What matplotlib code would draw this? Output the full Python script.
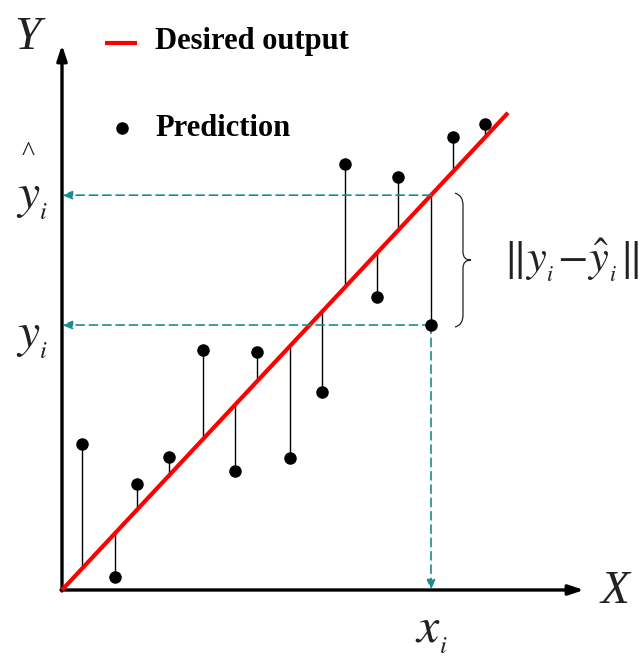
import matplotlib.pyplot as plt
from matplotlib.path import Path
from matplotlib.patches import PathPatch

plt.rcParams['mathtext.fontset'] = 'stix'
plt.rcParams['font.family'] = 'Liberation Serif'

# data (origin of the sketch at 0,0)
x_obs = [20, 53, 75, 107, 141, 173, 195, 228, 260, 283, 315, 336, 369, 391, 423]
y_pred = [146, 13, 106, 133, 240, 119, 238, 132, 198, 426, 293, 413, 265, 453, 466]
slope = 1.07          # desired output: y = slope * x
x_line = [0, 446]
i_sel = 12            # highlighted sample x_i
x_max, y_max = 522, 545

teal = '#1b8c8c'

fig = plt.figure(figsize=(6.4, 6.62), dpi=100)
ax = fig.add_axes([0, 0, 1, 1])
ax.set_xlim(-62, 578)
ax.set_ylim(-72, 590)
ax.axis('off')

# axes arrows
arw = dict(arrowstyle='-|>,head_length=0.9,head_width=0.3', color='black', lw=2.4,
           shrinkA=0, shrinkB=0)
ax.annotate('', xy=(x_max, 0), xytext=(-1, 0), arrowprops=arw)
ax.annotate('', xy=(0, y_max), xytext=(0, -1), arrowprops=arw)
ax.text(553, -2, 'X', fontsize=34, style='italic', ha='center', va='center', color='#222')
ax.text(-35, 552, 'Y', fontsize=34, style='italic', ha='center', va='center', color='#222')

# stems and predictions
for xv, yv in zip(x_obs, y_pred):
    ax.plot([xv, xv], [yv, slope * xv], color='black', lw=1.0, zorder=2)
ax.plot(x_obs, y_pred, 'o', color='black', ms=8, zorder=4)

# desired output line
ax.plot(x_line, [slope * v for v in x_line], color='red', lw=3, zorder=3,
        solid_capstyle='butt')

# highlighted sample
xi, yi = x_obs[i_sel], y_pred[i_sel]
yhat = slope * xi
dash = dict(arrowstyle='-|>,head_length=0.6,head_width=0.25', color=teal, lw=1.2,
            linestyle=(0, (5, 3)), shrinkA=0, shrinkB=0)
ax.annotate('', xy=(0, yhat), xytext=(xi, yhat), arrowprops=dash)
ax.annotate('', xy=(0, yi), xytext=(xi, yi), arrowprops=dash)
ax.annotate('', xy=(xi, 0), xytext=(xi, yi), arrowprops=dash)

# brace
bx = 393
mid = (yhat + yi) / 2
verts = [(bx, yhat + 2), (bx + 8, yhat), (bx + 8, yhat - 10),
         (bx + 8, mid + 8),
         (bx + 8, mid), (bx + 16, mid),
         (bx + 8, mid), (bx + 8, mid - 8),
         (bx + 8, yi + 10), (bx + 8, yi), (bx, yi - 2)]
codes = [Path.MOVETO, Path.CURVE3, Path.CURVE3, Path.LINETO,
         Path.CURVE3, Path.CURVE3, Path.CURVE3, Path.CURVE3,
         Path.LINETO, Path.CURVE3, Path.CURVE3]
ax.add_patch(PathPatch(Path(verts, codes), fill=False, lw=0.9, color='#222'))
ax.text(441, mid, r'$\Vert y_{_i}\!-\!\hat{y}_{_i}\Vert$', fontsize=32,
        ha='left', va='center', color='#222')

# tick-like labels
ax.text(-30, yhat - 3, r'$y_{_i}$', fontsize=36, ha='center', va='center', color='#222')
ax.text(-34, yhat + 42, '^', fontsize=20, ha='center', va='center', color='#222')
ax.text(-30, yi - 12, r'$y_{_i}$', fontsize=36, ha='center', va='center', color='#222')
ax.text(xi, -42, r'$x_{_i}$', fontsize=36, ha='center', va='center', color='#222')

# legend
ax.plot([43, 75], [547, 547], color='red', lw=3, solid_capstyle='butt')
ax.text(93, 549, 'Desired output', fontsize=22, fontweight='bold', va='center')
ax.plot([60], [462], 'o', color='black', ms=8)
ax.text(93, 462, 'Prediction', fontsize=22, fontweight='bold', va='center')

fig.savefig('out.png', dpi=100)
